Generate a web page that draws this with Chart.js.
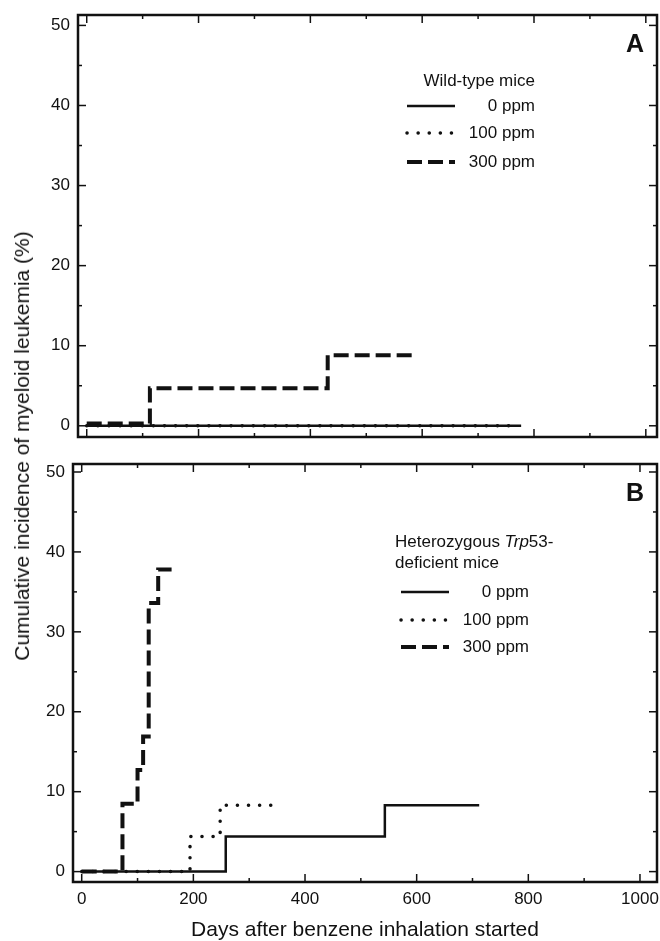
<!DOCTYPE html>
<html>
<head>
<meta charset="utf-8">
<script src="https://cdn.jsdelivr.net/npm/chart.js@4.4.0/dist/chart.umd.min.js"></script>
<style>
body { margin: 0; background: #fff; width: 660px; height: 941px; position: relative; overflow: hidden; font-family: "Liberation Sans", Arial, sans-serif; }
#chartA { position: absolute; left: 0; top: 0; }
#chartB { position: absolute; left: 0; top: 450px; }
#yTitle { position: absolute; left: 22px; top: 446px; transform: translate(-50%, -50%) rotate(-90deg); white-space: nowrap; font-size: 21px; color: #111; }
</style>
</head>
<body>
<canvas id="chartA" width="660" height="450"></canvas>
<canvas id="chartB" width="660" height="491"></canvas>
<div id="yTitle">Cumulative incidence of myeloid leukemia (%)</div>
<script>
// axis ticks (days / percent)
const xMajor = [0, 200, 400, 600, 800, 1000];
const xMinor = [100, 300, 500, 700, 900];
const yMajor = [0, 10, 20, 30, 40, 50];
const yMinor = [5, 15, 25, 35, 45];

const doses = ['0 ppm', '100 ppm', '300 ppm'];

// Panel A - wild-type mice (day where a level starts, cumulative incidence %)
const daysA0 = [0, 777];
const incA0 = [0, 0];
const daysA100 = [0, 770];
const incA100 = [0, 0];
const daysA300 = [0, 113, 431, 582];
const incA300 = [0.3, 4.7, 8.8, 8.8];

// Panel B - heterozygous Trp53-deficient mice
const daysB0 = [0, 258, 543, 712];
const incB0 = [0, 4.4, 8.3, 8.3];
const daysB100 = [0, 194, 248, 346];
const incB100 = [0, 4.4, 8.3, 8.3];
const daysB300 = [0, 73, 100, 110, 120, 137, 161];
const incB300 = [0, 8.5, 12.7, 16.9, 33.6, 37.8, 37.8];

const ink = '#111';
const FONT = '"Liberation Sans", Arial, sans-serif';

// line styles for 0 / 100 / 300 ppm
const styles = [
    { borderWidth: 2.5, borderDash: [], borderCapStyle: 'butt' },
    { borderWidth: 3.5, borderDash: [0.1, 11], borderCapStyle: 'round' },
    { borderWidth: 4, borderDash: [15, 6], borderCapStyle: 'butt' }
];

function pts(days, inc) {
    return days.map((d, i) => ({ x: d, y: inc[i] }));
}

function makeSets(series) {
    return series.map((s, i) => Object.assign({
        label: doses[i],
        data: pts(s[0], s[1]),
        borderColor: ink,
        pointRadius: 0,
        stepped: 'before',
        fill: false
    }, styles[i]));
}

// box, inside ticks on all four sides, panel letter and legend
const framePlugin = {
    id: 'frame',
    afterDatasetsDraw(chart, args, opts) {
        const ctx = chart.ctx;
        const a = chart.chartArea;
        const x = chart.scales.x, y = chart.scales.y;
        ctx.save();
        ctx.strokeStyle = ink;
        ctx.lineWidth = 2.5;
        ctx.setLineDash([]);
        ctx.strokeRect(a.left, a.top, a.right - a.left, a.bottom - a.top);

        ctx.lineWidth = 1.5;
        const tick = (x1, y1, x2, y2) => { ctx.beginPath(); ctx.moveTo(x1, y1); ctx.lineTo(x2, y2); ctx.stroke(); };
        const xt = (list, len) => list.forEach(v => {
            const p = x.getPixelForValue(v);
            tick(p, a.bottom, p, a.bottom - len);
            tick(p, a.top, p, a.top + len);
        });
        const yt = (list, len) => list.forEach(v => {
            const p = y.getPixelForValue(v);
            tick(a.left, p, a.left + len, p);
            tick(a.right, p, a.right - len, p);
        });
        xt(xMajor, 8); xt(xMinor, 4);
        yt(yMajor, 8); yt(yMinor, 4);

        // panel letter
        ctx.fillStyle = ink;
        ctx.font = 'bold 25px ' + FONT;
        ctx.textAlign = 'center';
        ctx.textBaseline = 'middle';
        ctx.fillText(opts.letter, a.right - 22, a.top + opts.letterDy);

        // legend
        const lg = opts.legend;
        lg.header.forEach(h => {
            let cx = h.x;
            const widths = h.parts.map(p => {
                ctx.font = (p.italic ? 'italic ' : '') + '17px ' + FONT;
                return ctx.measureText(p.text).width;
            });
            const total = widths.reduce((s, w) => s + w, 0);
            if (h.align === 'right') cx = h.x - total;
            ctx.textAlign = 'left';
            h.parts.forEach((p, i) => {
                ctx.font = (p.italic ? 'italic ' : '') + '17px ' + FONT;
                ctx.fillText(p.text, cx, h.y);
                cx += widths[i];
            });
        });
        ctx.font = '17px ' + FONT;
        lg.rows.forEach((ry, i) => {
            const st = styles[i];
            ctx.lineWidth = st.borderWidth;
            ctx.setLineDash(st.borderDash);
            ctx.lineCap = st.borderCapStyle;
            tick(lg.x0, ry, lg.x1, ry);
            ctx.setLineDash([]);
            ctx.lineCap = 'butt';
            ctx.textAlign = 'right';
            ctx.fillText(doses[i], lg.textRight, ry);
        });
        ctx.restore();
    }
};

function makeChart(id, sets, cfg) {
    return new Chart(document.getElementById(id), {
        type: 'line',
        data: { datasets: sets },
        options: {
            responsive: false,
            animation: false,
            layout: { padding: { top: cfg.padTop, right: 3, left: 0, bottom: 0 } },
            plugins: {
                legend: { display: false },
                tooltip: { enabled: false },
                frame: cfg.frame
            },
            scales: {
                x: {
                    type: 'linear',
                    min: cfg.xMin, max: cfg.xMax,
                    grid: { display: false, drawTicks: false },
                    border: { display: false },
                    afterBuildTicks: s => { s.ticks = xMajor.map(v => ({ value: v })); },
                    afterFit: s => { s.height = cfg.xHeight; s.paddingLeft = 0; s.paddingRight = 0; },
                    ticks: {
                        display: cfg.xLabels, color: ink, padding: 7, maxRotation: 0,
                        font: { size: 17, family: FONT },
                        callback: v => String(v)
                    },
                    title: {
                        display: cfg.xLabels,
                        text: 'Days after benzene inhalation started',
                        color: ink,
                        font: { size: 21, family: FONT, lineHeight: 1.0 },
                        padding: { top: 0, bottom: 0 }
                    }
                },
                y: {
                    type: 'linear',
                    min: cfg.yMin, max: cfg.yMax,
                    grid: { display: false, drawTicks: false },
                    border: { display: false },
                    afterBuildTicks: s => { s.ticks = yMajor.map(v => ({ value: v })); },
                    afterFit: s => { s.width = cfg.yWidth; s.paddingTop = 0; s.paddingBottom = 0; },
                    ticks: { color: ink, padding: 8, font: { size: 17, family: FONT } }
                }
            }
        },
        plugins: [framePlugin]
    });
}

makeChart('chartA', makeSets([[daysA0, incA0], [daysA100, incA100], [daysA300, incA300]]), {
    padTop: 15, xMin: -15.6, xMax: 1020, yMin: -1.4, yMax: 51.3,
    xHeight: 13, yWidth: 78, xLabels: false,
    frame: {
        letter: 'A', letterDy: 30,
        legend: {
            header: [{ x: 535, y: 81, align: 'right', parts: [{ text: 'Wild-type mice' }] }],
            rows: [106, 133, 162], x0: 407, x1: 455, textRight: 535
        }
    }
});

makeChart('chartB', makeSets([[daysB0, incB0], [daysB100, incB100], [daysB300, incB300]]), {
    padTop: 14, xMin: -15.6, xMax: 1030.5, yMin: -1.3, yMax: 51.0,
    xHeight: 59, yWidth: 73, xLabels: true,
    frame: {
        letter: 'B', letterDy: 30,
        legend: {
            header: [
                { x: 395, y: 92, align: 'left', parts: [{ text: 'Heterozygous ' }, { text: 'Trp', italic: true }, { text: '53-' }] },
                { x: 395, y: 113, align: 'left', parts: [{ text: 'deficient mice' }] }
            ],
            rows: [142, 170, 197], x0: 401, x1: 449, textRight: 529
        }
    }
});
</script>
</body>
</html>
